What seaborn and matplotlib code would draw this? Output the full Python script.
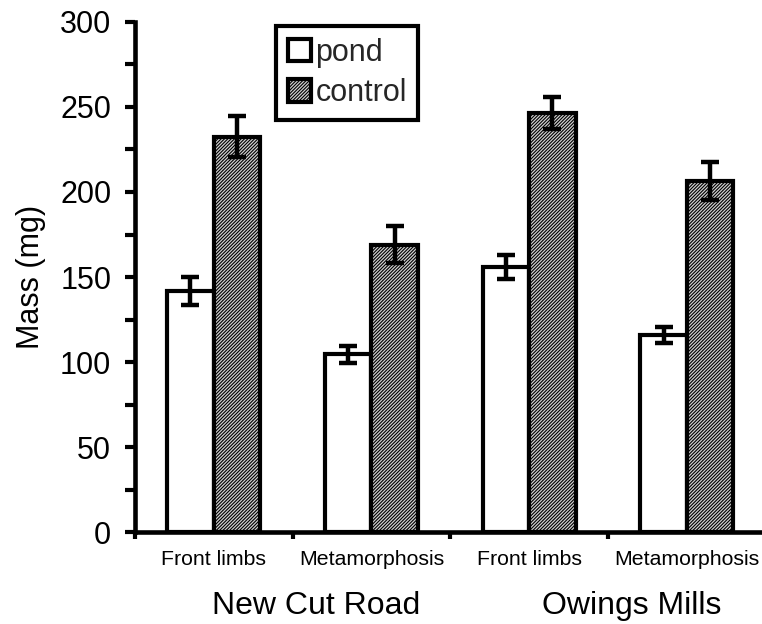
import pandas as pd
import matplotlib.pyplot as plt
import matplotlib.transforms as mtransforms
import seaborn as sns

# ========= DADOS ==========
sites = ["New Cut Road", "New Cut Road", "Owings Mills", "Owings Mills"]
stages = ["Front limbs", "Metamorphosis", "Front limbs", "Metamorphosis"]
pond_mass = [141.8, 104.5, 155.8, 116.0]
pond_err = [8.5, 5.0, 7.0, 4.7]
control_mass = [232.4, 169.0, 246.5, 206.5]
control_err = [12.0, 11.0, 9.5, 11.0]
treatments = ["pond", "control"]
y_ticks = [0, 50, 100, 150, 200, 250, 300]

keys = [f"{s}|{g}" for s, g in zip(sites, stages)]
df = pd.DataFrame({
    "key": keys * 2,
    "treatment": ["pond"] * 4 + ["control"] * 4,
    "mass": pond_mass + control_mass,
})

# ========= ESTILO ==========
sns.set_style("ticks")
plt.rcParams["font.family"] = ["Liberation Sans", "DejaVu Sans"]
plt.rcParams["hatch.linewidth"] = 0.8
HATCH = "/" * 10

fig = plt.figure(figsize=(7.62, 6.24), dpi=100)
ax = fig.add_axes([0.177, 0.147, 0.828, 0.818])

sns.barplot(data=df, x="key", y="mass", hue="treatment", order=keys,
            hue_order=treatments, palette=["white", "#d0d0d0"], width=0.59,
            errorbar=None, edgecolor="black", linewidth=3.0, ax=ax)

# hachura nas barras de controle
for bar in ax.containers[1]:
    bar.set_hatch(HATCH)

# barras de erro
errs = [pond_err, control_err]
for cont, err in zip(ax.containers, errs):
    xs = [b.get_x() + b.get_width() / 2 for b in cont]
    ys = [b.get_height() for b in cont]
    ax.errorbar(xs, ys, yerr=err, fmt="none", ecolor="black", elinewidth=3.2,
                capsize=6.5, capthick=3.2, zorder=5)

# ========= EIXOS ==========
ax.set_xlim(-0.5, 3.5)
ax.set_ylim(0, 300)
ax.set_yticks(y_ticks)
ax.set_yticks([25, 75, 125, 175, 225, 275], minor=True)
ax.tick_params(axis="y", which="both", length=7, width=3.0, labelsize=22,
               pad=10, direction="out", color="black", labelcolor="black")
ax.set_xticks([-0.5, 0.5, 1.5, 2.5, 3.5])
ax.set_xticklabels([])
ax.set_xticks([0, 1, 2, 3], minor=True)
ax.set_xticklabels(stages, minor=True)
ax.tick_params(axis="x", which="major", length=5, width=3.0, color="black")
ax.tick_params(axis="x", which="minor", length=0, labelsize=15.3, pad=13,
               labelcolor="black")

ax.set_xlabel("")
ax.set_ylabel("Mass (mg)", fontsize=22, color="black", labelpad=10)
for side in ["top", "right"]:
    ax.spines[side].set_visible(False)
for side in ["left", "bottom"]:
    ax.spines[side].set_linewidth(3.3)
    ax.spines[side].set_color("black")

# rótulos dos locais
trans = mtransforms.blended_transform_factory(ax.transData, ax.transAxes)
for pos, name in [(0.65, sites[0]), (2.65, sites[2])]:
    ax.text(pos, -0.161, name, transform=trans, ha="center", va="baseline",
            fontsize=23, color="black")

# ========= LEGENDA ==========
leg = ax.legend(loc="upper left", bbox_to_anchor=(0.224, 0.992), fontsize=22,
                frameon=True, fancybox=False, framealpha=1.0,
                handlelength=0.75, handleheight=0.75, handletextpad=0.15,
                labelspacing=0.35, borderpad=0.38, borderaxespad=0.0)
leg.get_frame().set_edgecolor("black")
leg.get_frame().set_linewidth(3.0)
for h in leg.legend_handles:
    h.set_edgecolor("black")
    h.set_linewidth(3.0)
leg.legend_handles[1].set_hatch(HATCH)

fig.savefig("out.png", dpi=100)
